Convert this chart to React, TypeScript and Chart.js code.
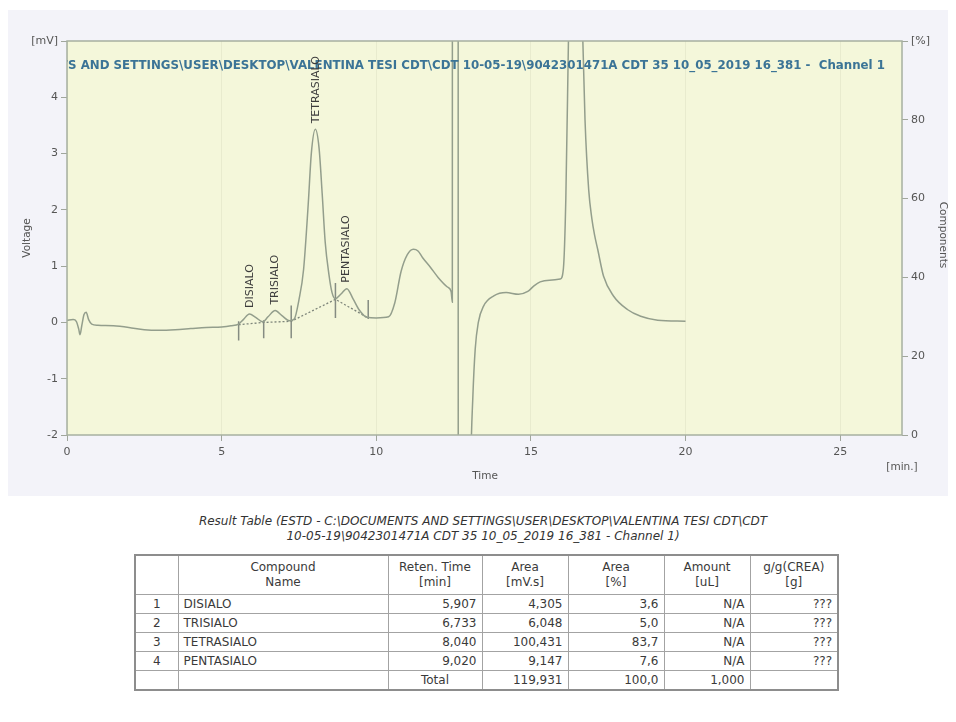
import React, { useEffect, useRef } from 'react';
import { Chart, registerables } from 'chart.js';

Chart.register(...registerables);

// Detector trace, Channel 1: time [min] and voltage [mV]
const signalTime = [
  0.0, 0.2, 0.3, 0.38, 0.42, 0.48, 0.55, 0.62, 0.7, 0.8, 1.0, 1.5, 2.0, 2.5, 3.0, 3.5, 4.0, 4.5, 5.0,
  5.3, 5.55, 5.7, 5.9, 6.1, 6.33, 6.5, 6.73, 6.95, 7.2, 7.35, 7.5, 7.65, 7.8, 7.9, 8.03, 8.15, 8.25, 8.35,
  8.47, 8.57, 8.68, 8.85, 9.05, 9.25, 9.45, 9.7, 10.0, 10.4, 10.6, 10.8, 11.0, 11.2, 11.35, 11.5, 11.75,
  12.0, 12.3, 12.42, 12.46, 12.47, 12.64, 12.66, 13.0, 13.02, 13.06, 13.12, 13.2, 13.3, 13.47, 13.8, 14.2,
  14.6, 14.9, 15.1, 15.3, 15.6, 15.95, 16.05, 16.13, 16.22, 16.45, 16.67, 16.75, 16.87, 16.97, 17.06, 17.16,
  17.35, 17.67, 18.12, 18.55, 19.1, 20.0,
];
const signalVoltage = [
  0.04, 0.05, 0.02, -0.12, -0.22, -0.05, 0.14, 0.18, 0.05, -0.03, -0.05, -0.06, -0.09, -0.13, -0.14, -0.13,
  -0.11, -0.09, -0.08, -0.06, -0.03, 0.05, 0.15, 0.09, 0.01, 0.1, 0.21, 0.12, 0.03, 0.06, 0.4, 0.94,
  2.1, 3.0, 3.43, 3.1, 2.3, 1.42, 0.85, 0.53, 0.42, 0.5, 0.6, 0.42, 0.22, 0.09, 0.08, 0.1, 0.35, 0.9, 1.2,
  1.3, 1.27, 1.15, 0.98, 0.8, 0.63, 0.55, 0.36, 40, 40, -40, -40, -8, -2.5, -1.37, -0.47, 0.0, 0.29, 0.47,
  0.53, 0.5, 0.55, 0.65, 0.72, 0.75, 0.77, 0.95, 2.2, 5.2, 12, 5.2, 3.6, 2.35, 1.85, 1.55, 1.3, 0.82, 0.47,
  0.23, 0.11, 0.04, 0.02,
];

// Integration baseline and peak start/end markers
const baselineTime = [5.55, 6.36, 7.25, 8.68, 9.74];
const baselineVoltage = [-0.04, 0.0, 0.02, 0.41, 0.08];
const markerTop = [0.02, 0.04, 0.3, 0.7, 0.4];
const markerBottom = [-0.32, -0.28, -0.28, 0.08, 0.06];

// Result table
const compoundNames = ['DISIALO', 'TRISIALO', 'TETRASIALO', 'PENTASIALO'];
const retentionTimes = [5.907, 6.733, 8.04, 9.02];
const areasMvs = [4.305, 6.048, 100.431, 9.147];
const areaPercent = [3.6, 5.0, 83.7, 7.6];
const amountUl = ['N/A', 'N/A', 'N/A', 'N/A'];
const ggCrea = ['???', '???', '???', '???'];
const totalArea = 119.931;
const totalPercent = 100.0;
const totalAmount = 1.0;

// Axis ticks
const timeTicks = [0, 5, 10, 15, 20, 25];
const voltageTicks = [-2, -1, 0, 1, 2, 3, 4, 5];
const componentTicks = [0, 20, 40, 60, 80, 100];

const headerText =
  'C:\\DOCUMENTS AND SETTINGS\\USER\\DESKTOP\\VALENTINA TESI CDT\\CDT 10-05-19\\9042301471A CDT 35 10_05_2019 16_381 -  Channel 1';
const tableTitle1 = 'Result Table (ESTD - C:\\DOCUMENTS AND SETTINGS\\USER\\DESKTOP\\VALENTINA TESI CDT\\CDT';
const tableTitle2 = '10-05-19\\9042301471A CDT 35 10_05_2019 16_381 -  Channel 1)';

const FONT = '"DejaVu Sans", Verdana, sans-serif';
const fmt = (v: number, d: number) => v.toFixed(d).replace('.', ',');

const apexOf = (rt: number) => {
  let best = -Infinity;
  signalTime.forEach((t, i) => {
    if (Math.abs(t - rt) < 0.25 && signalVoltage[i] > best) best = signalVoltage[i];
  });
  return best;
};

const decorPlugin = {
  id: 'chromDecor',
  beforeDraw(chart: any) {
    const { ctx, chartArea: a } = chart;
    ctx.save();
    ctx.fillStyle = '#f4f7da';
    ctx.fillRect(a.left, a.top, a.right - a.left, a.bottom - a.top);
    ctx.restore();
  },
  afterDatasetsDraw(chart: any) {
    const { ctx, chartArea: a, scales } = chart;
    const xs = scales.x;
    const ys = scales.y;

    // header path, clipped to the plot area
    ctx.save();
    ctx.beginPath();
    ctx.rect(a.left, a.top, a.right - a.left, a.bottom - a.top);
    ctx.clip();
    const visible = headerText.slice(headerText.indexOf('S AND'));
    ctx.font = `bold 11px ${FONT}`;
    const w = ctx.measureText(visible).width;
    const size = (11 * 818) / w;
    ctx.font = `bold ${size}px ${FONT}`;
    ctx.fillStyle = '#3b7496';
    ctx.textAlign = 'right';
    ctx.textBaseline = 'middle';
    ctx.fillText(headerText, 877, 56);
    ctx.restore();

    // peak names
    ctx.save();
    ctx.font = `11px ${FONT}`;
    ctx.fillStyle = '#3c3c3c';
    ctx.textAlign = 'left';
    ctx.textBaseline = 'middle';
    compoundNames.forEach((name, i) => {
      const px = xs.getPixelForValue(retentionTimes[i]);
      const py = ys.getPixelForValue(apexOf(retentionTimes[i])) - 6;
      ctx.save();
      ctx.translate(px, py);
      ctx.rotate(-Math.PI / 2);
      ctx.fillText(name, 0, 0);
      ctx.restore();
    });
    ctx.restore();

    // plot frame
    ctx.save();
    ctx.strokeStyle = '#a7b0a0';
    ctx.lineWidth = 1.5;
    ctx.strokeRect(a.left, a.top, a.right - a.left, a.bottom - a.top);
    ctx.restore();

    // axis titles
    ctx.save();
    ctx.font = `10.5px ${FONT}`;
    ctx.fillStyle = '#555';
    ctx.textAlign = 'center';
    ctx.textBaseline = 'middle';
    ctx.fillText('Time', 477, 466);
    ctx.fillText('[min.]', 894, 457);
    ctx.save();
    ctx.translate(19, (a.top + a.bottom) / 2);
    ctx.rotate(-Math.PI / 2);
    ctx.fillText('Voltage', 0, 0);
    ctx.restore();
    ctx.save();
    ctx.translate(935, (a.top + a.bottom) / 2 - 3);
    ctx.rotate(Math.PI / 2);
    ctx.fillText('Components', 0, 0);
    ctx.restore();
    ctx.restore();
  },
};

export default function App() {
  const ref = useRef<HTMLCanvasElement>(null);

  useEffect(() => {
    const markerPoints: { x: number; y: number | null }[] = [];
    baselineTime.forEach((t, i) => {
      markerPoints.push({ x: t, y: markerTop[i] });
      markerPoints.push({ x: t, y: markerBottom[i] });
      markerPoints.push({ x: t, y: null });
    });

    const tickFont = { family: FONT, size: 11 };
    const chart = new Chart(ref.current as HTMLCanvasElement, {
      type: 'line',
      data: {
        datasets: [
          {
            label: 'Channel 1',
            data: signalTime.map((t, i) => ({ x: t, y: signalVoltage[i] })),
            borderColor: '#939e8c',
            borderWidth: 1.5,
            pointRadius: 0,
            cubicInterpolationMode: 'monotone',
            yAxisID: 'y',
          },
          {
            label: 'Baseline',
            data: baselineTime.map((t, i) => ({ x: t, y: baselineVoltage[i] })),
            borderColor: '#7d857a',
            borderWidth: 1.3,
            borderDash: [2, 2],
            pointRadius: 0,
            tension: 0,
            yAxisID: 'y',
          },
          {
            label: 'Markers',
            data: markerPoints,
            borderColor: '#858c82',
            borderWidth: 1.5,
            pointRadius: 0,
            spanGaps: false,
            tension: 0,
            yAxisID: 'y',
          },
        ],
      } as any,
      options: {
        animation: false,
        responsive: false,
        parsing: false as any,
        normalized: true,
        layout: { padding: { top: 31, left: 0, right: 0, bottom: 0 } },
        plugins: { legend: { display: false }, tooltip: { enabled: false } },
        scales: {
          x: {
            type: 'linear',
            min: 0,
            max: 27,
            afterBuildTicks: (s: any) => {
              s.ticks = timeTicks.map((v) => ({ value: v }));
            },
            afterFit: (s: any) => {
              s.height = 61;
            },
            ticks: { color: '#555', font: tickFont, padding: 5, maxRotation: 0 },
            grid: { color: 'rgba(190,198,165,0.22)', tickColor: '#a0a69c', tickLength: 6 },
            border: { display: false },
          },
          y: {
            type: 'linear',
            position: 'left',
            min: -2,
            max: 5,
            afterBuildTicks: (s: any) => {
              s.ticks = voltageTicks.map((v) => ({ value: v }));
            },
            afterFit: (s: any) => {
              s.width = 59;
            },
            ticks: {
              color: '#555',
              font: tickFont,
              padding: 3,
              callback: (v: any) => (v === 5 ? '[mV]' : String(v)),
            },
            grid: { drawOnChartArea: false, tickColor: '#a0a69c', tickLength: 6 },
            border: { display: false },
          },
          y2: {
            type: 'linear',
            position: 'right',
            min: 0,
            max: 100,
            afterBuildTicks: (s: any) => {
              s.ticks = componentTicks.map((v) => ({ value: v }));
            },
            afterFit: (s: any) => {
              s.width = 46;
            },
            ticks: {
              color: '#555',
              font: tickFont,
              padding: 3,
              callback: (v: any) => (v === 100 ? '[%]' : String(v)),
            },
            grid: { drawOnChartArea: false, tickColor: '#a0a69c', tickLength: 6 },
            border: { display: false },
          },
        },
      } as any,
      plugins: [decorPlugin],
    });
    return () => chart.destroy();
  }, []);

  const cell: React.CSSProperties = {
    border: '1px solid #a3a3a3',
    padding: '0 5px',
    height: 18,
    whiteSpace: 'nowrap',
  };
  const num: React.CSSProperties = { ...cell, textAlign: 'right' };
  const head: React.CSSProperties = { ...cell, textAlign: 'center', height: 38, lineHeight: '15px', fontWeight: 'normal' };
  const colWidths = [43, 210, 94, 86, 96, 86, 88];

  return (
    <div style={{ position: 'relative', width: 940, height: 700, fontFamily: FONT, color: '#333' }}>
      <div style={{ position: 'absolute', left: 0, top: 2, width: 940, height: 486, background: '#f3f3f9' }}>
        <canvas ref={ref} width={940} height={486} style={{ display: 'block', width: 940, height: 486 }} />
      </div>
      <div
        style={{
          position: 'absolute',
          left: 0,
          top: 506,
          width: 950,
          textAlign: 'center',
          fontStyle: 'italic',
          fontSize: 12,
          lineHeight: '15px',
          color: '#333',
        }}
      >
        <div>{tableTitle1}</div>
        <div>{tableTitle2}</div>
      </div>
      <table
        style={{
          position: 'absolute',
          left: 126,
          top: 546,
          borderCollapse: 'collapse',
          border: '2px solid #8d8d8d',
          fontSize: 12,
          tableLayout: 'fixed',
          width: 703,
          color: '#3a3a3a',
        }}
      >
        <colgroup>
          {colWidths.map((w, i) => (
            <col key={i} style={{ width: w }} />
          ))}
        </colgroup>
        <thead>
          <tr>
            <th style={head}></th>
            <th style={head}>
              Compound
              <br />
              Name
            </th>
            <th style={head}>
              Reten. Time
              <br />
              [min]
            </th>
            <th style={head}>
              Area
              <br />
              [mV.s]
            </th>
            <th style={head}>
              Area
              <br />
              [%]
            </th>
            <th style={head}>
              Amount
              <br />
              [uL]
            </th>
            <th style={head}>
              g/g(CREA)
              <br />
              [g]
            </th>
          </tr>
        </thead>
        <tbody>
          {compoundNames.map((name, i) => (
            <tr key={name}>
              <td style={{ ...cell, textAlign: 'center' }}>{i + 1}</td>
              <td style={cell}>{name}</td>
              <td style={num}>{fmt(retentionTimes[i], 3)}</td>
              <td style={num}>{fmt(areasMvs[i], 3)}</td>
              <td style={num}>{fmt(areaPercent[i], 1)}</td>
              <td style={num}>{amountUl[i]}</td>
              <td style={num}>{ggCrea[i]}</td>
            </tr>
          ))}
          <tr>
            <td style={cell}></td>
            <td style={cell}></td>
            <td style={{ ...cell, textAlign: 'center' }}>Total</td>
            <td style={num}>{fmt(totalArea, 3)}</td>
            <td style={num}>{fmt(totalPercent, 1)}</td>
            <td style={num}>{fmt(totalAmount, 3)}</td>
            <td style={cell}></td>
          </tr>
        </tbody>
      </table>
    </div>
  );
}
